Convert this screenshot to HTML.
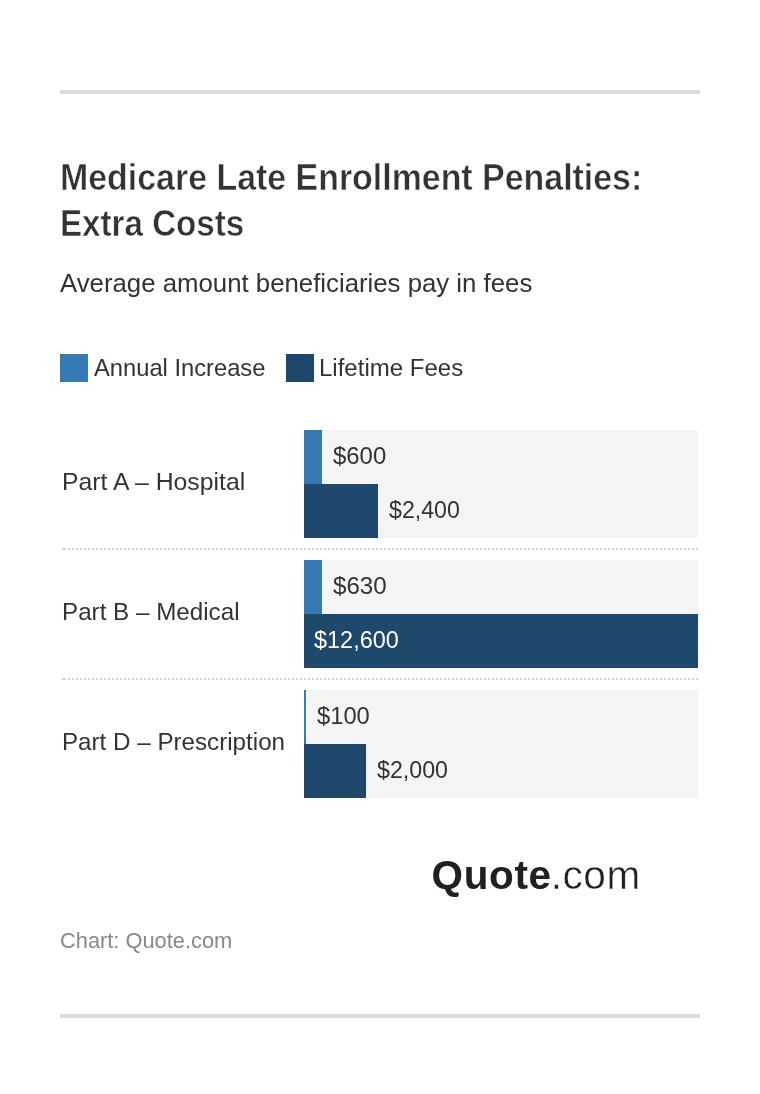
<!DOCTYPE html>
<html lang="en">
<head>
<meta charset="utf-8">
<title>Medicare Late Enrollment Penalties: Extra Costs</title>
<style>
*{margin:0;padding:0;box-sizing:border-box}
html,body{width:760px;height:1094px;background:#fff;overflow:hidden}
body{position:relative;font-family:"Liberation Sans",sans-serif;color:#333;-webkit-font-smoothing:antialiased}
.rule{position:absolute;left:60px;width:640px;height:4px;background:#dddddd}
.t{position:absolute;white-space:nowrap;line-height:1;transform-origin:0 0}
h1.t{font-weight:bold;font-size:35px;color:#333;-webkit-text-stroke:0.5px #fff}
.sub{font-size:25.7px;color:#333}
.sw{position:absolute;top:354px;width:28px;height:28px}
.lg{font-size:24px}
.track{position:absolute;left:304px;width:394px;height:108px;background:#f4f4f4}
.bar{position:absolute;left:304px;height:54px}
.a{background:#3579b5}
.b{background:#1e486c}
.sep{position:absolute;left:62px;width:636px;height:2px;background:linear-gradient(#d3d3d3,#d3d3d3) 0 0/2px 2px no-repeat,repeating-linear-gradient(90deg,#d3d3d3 0,#d3d3d3 2px,transparent 2px,transparent 4px) 2px 0/634px 2px no-repeat}
.lab{font-size:24px}
.val{font-size:24px}
.val.w{color:#fff}
.foot{font-size:22px;color:#888}
.logo{font-family:"Liberation Sans",sans-serif;color:#231f20;font-size:40.5px}
.logo b{letter-spacing:0.65px}
.logo span{font-weight:normal;-webkit-text-stroke:0.45px #fff;letter-spacing:0.55px;margin-left:-1px}
</style>
</head>
<body>
<div class="rule" style="top:90px"></div>

<h1 class="t" id="t1" style="left:60.10px;top:159.87px;font-size:36.3px;transform:scaleX(0.9342)">Medicare Late Enrollment Penalties:</h1>
<h1 class="t" id="t2" style="left:59.94px;top:205.77px;font-size:36.3px;transform:scaleX(0.9136)">Extra Costs</h1>
<p class="t sub" id="sub" style="left:60.16px;top:270.37px;font-size:26.5px;transform:scaleX(0.9725)">Average amount beneficiaries pay in fees</p>

<div class="sw a" style="left:60px"></div>
<span class="t lg" id="lg1" style="left:94.06px;top:355.91px;font-size:24.8px;transform:scaleX(0.9562)">Annual Increase</span>
<div class="sw b" style="left:286px"></div>
<span class="t lg" id="lg2" style="left:318.76px;top:355.91px;font-size:24.8px;transform:scaleX(0.9685)">Lifetime Fees</span>

<!-- row 1 -->
<div class="track" style="top:430px"></div>
<div class="bar a" style="top:430px;width:18px"></div>
<div class="bar b" style="top:484px;width:74px"></div>
<span class="t lab" id="l1" style="left:61.90px;top:469.81px;font-size:24.8px;transform:scaleX(0.9992)">Part A – Hospital</span>
<span class="t val" id="v1a" style="left:332.66px;top:444.11px;font-size:24.8px;transform:scaleX(0.9648)">$600</span>
<span class="t val" id="v1b" style="left:389.27px;top:497.91px;font-size:24.8px;transform:scaleX(0.9338)">$2,400</span>
<div class="sep" style="top:548px"></div>

<!-- row 2 -->
<div class="track" style="top:560px"></div>
<div class="bar a" style="top:560px;width:18px"></div>
<div class="bar b" style="top:614px;width:394px"></div>
<span class="t lab" id="l2" style="left:61.95px;top:599.81px;font-size:24.8px;transform:scaleX(0.9759)">Part B – Medical</span>
<span class="t val" id="v2a" style="left:333.36px;top:574.21px;font-size:24.8px;transform:scaleX(0.9722)">$630</span>
<span class="t val w" id="v2b" style="left:313.96px;top:627.91px;font-size:24.8px;transform:scaleX(0.9458)">$12,600</span>
<div class="sep" style="top:678px"></div>

<!-- row 3 -->
<div class="track" style="top:690px"></div>
<div class="bar a" style="top:690px;width:2px"></div>
<div class="bar b" style="top:744px;width:62px"></div>
<span class="t lab" id="l3" style="left:61.95px;top:729.81px;font-size:24.8px;transform:scaleX(0.9749)">Part D – Prescription</span>
<span class="t val" id="v3a" style="left:317.06px;top:704.01px;font-size:24.8px;transform:scaleX(0.9574)">$100</span>
<span class="t val" id="v3b" style="left:376.57px;top:757.81px;font-size:24.8px;transform:scaleX(0.9351)">$2,000</span>

<div class="t logo" id="logo" style="left:431.5px;top:854.5px"><b id="lq">Quote</b><span id="lc">.com</span></div>

<p class="t foot" id="foot" style="left:60.15px;top:929.12px;font-size:22.9px;transform:scaleX(0.9532)">Chart: Quote.com</p>

<div class="rule" style="top:1014px"></div>
</body>
</html>
